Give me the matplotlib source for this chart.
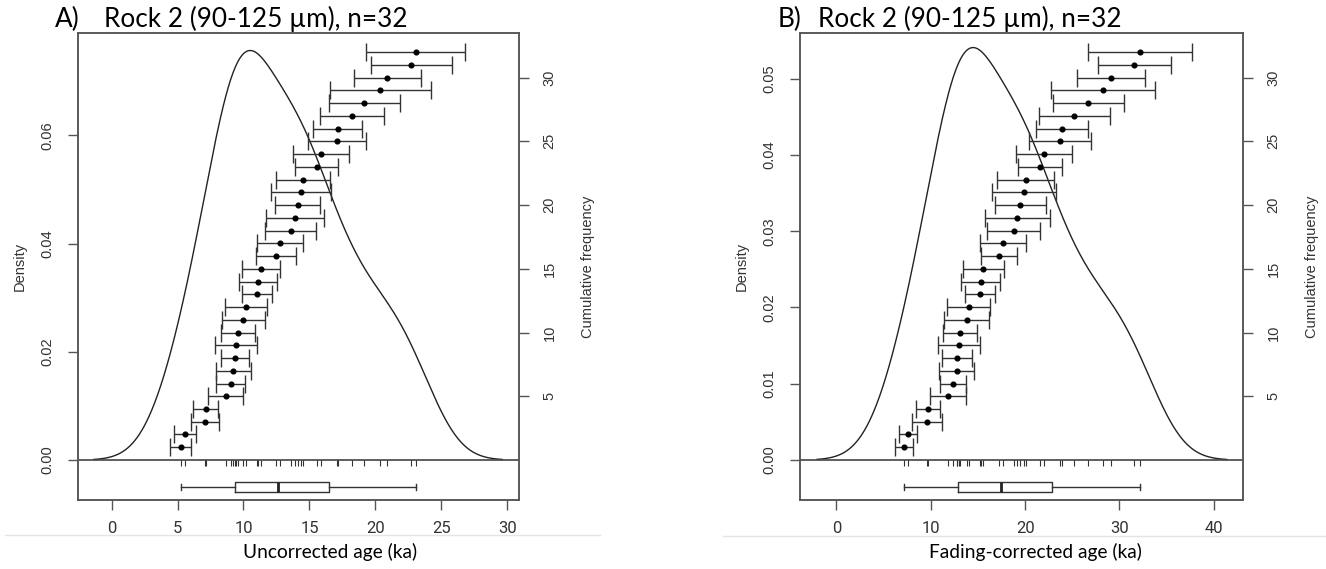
import matplotlib
matplotlib.use("Agg")
import matplotlib.pyplot as plt
import numpy as np
from matplotlib.lines import Line2D

# Rock 2 (90-125 um): sorted single-grain ages and errors (ka)
uncorr_age = [5.23, 5.54, 7.08, 7.15, 8.67, 9.02, 9.22, 9.35, 9.42, 9.58, 9.98, 10.18,
              11.04, 11.12, 11.32, 12.48, 12.78, 13.59, 13.90, 14.10, 14.37, 14.52,
              15.56, 15.90, 17.10, 17.15, 18.21, 19.17, 20.38, 20.91, 22.73, 23.06]
uncorr_err = [0.77, 0.83, 1.09, 0.94, 1.33, 1.07, 1.33, 1.09, 1.59, 1.29, 1.62, 1.61,
              1.15, 1.43, 1.44, 1.50, 1.77, 1.95, 2.18, 1.73, 2.27, 2.06,
              1.64, 2.12, 2.18, 1.85, 2.44, 2.69, 3.83, 2.54, 3.09, 3.77]

fc_age = [7.16, 7.58, 9.60, 9.70, 11.85, 12.32, 12.74, 12.81, 12.96, 13.13, 13.80, 14.01,
          15.20, 15.28, 15.56, 17.19, 17.61, 18.78, 19.16, 19.48, 19.87, 20.05,
          21.54, 21.99, 23.69, 23.87, 25.20, 26.69, 28.24, 29.12, 31.56, 32.16]
fc_err = [0.99, 0.99, 1.54, 1.23, 1.89, 1.37, 1.82, 1.57, 2.21, 1.82, 2.40, 2.26,
          1.57, 2.07, 2.16, 1.91, 2.44, 2.81, 3.44, 2.69, 3.41, 3.06,
          2.32, 2.97, 3.27, 2.77, 3.78, 3.74, 5.48, 3.62, 3.87, 5.48]

panel_tags = ["A)", "B)"]
panel_title = "Rock 2 (90-125 µm), n=32"
x_labels = ["Uncorrected age (ka)", "Fading-corrected age (ka)"]
x_ticks = [[0, 5, 10, 15, 20, 25, 30], [0, 10, 20, 30, 40]]
dens_ticks = [[0.00, 0.02, 0.04, 0.06], [0.00, 0.01, 0.02, 0.03, 0.04, 0.05]]
cum_ticks = [5, 10, 15, 20, 25, 30]

W, H = 1326, 569
LINE = "#333333"
SPINE = "#555555"
plt.rcParams["font.family"] = ["Liberation Sans", "DejaVu Sans"]


def fivenum(v):
    x = np.sort(v)
    n = len(x)
    n4 = np.floor((n + 3) / 2) / 2
    d = np.array([1, n4, (n + 1) / 2, n + 1 - n4, n]) - 1
    return 0.5 * (x[np.floor(d).astype(int)] + x[np.ceil(d).astype(int)])


def kde_nrd0(v):
    x = np.asarray(v)
    iqr = np.percentile(x, 75) - np.percentile(x, 25)
    bw = 0.9 * min(x.std(ddof=1), iqr / 1.34) * len(x) ** -0.2
    grid = np.linspace(x.min() - 3 * bw, x.max() + 3 * bw, 512)
    dens = np.exp(-0.5 * ((grid[:, None] - x[None, :]) / bw) ** 2).sum(1)
    dens /= len(x) * bw * np.sqrt(2 * np.pi)
    return grid, dens


def panel(rect, ages, errs, i, xlim, dlim, xlab_px):
    ax = fig.add_axes(rect)
    ax2 = ax.twinx()
    cum = np.arange(1, len(ages) + 1)

    gx, gy = kde_nrd0(ages)
    ax.plot(gx, gy, color="#222222", lw=1.0)
    ax.axhline(0, color="#444444", lw=1.2)

    ax2.errorbar(ages, cum, xerr=errs, fmt="o", ms=3.4, color="black",
                 ecolor=LINE, elinewidth=1.0, capsize=6.5, capthick=1.0)
    ax2.vlines(ages, -0.45, 0, color=LINE, lw=0.8)

    q = fivenum(ages)
    stats = [dict(whislo=q[0], q1=q[1], med=q[2], q3=q[3], whishi=q[4], fliers=[])]
    ax2.bxp(stats, positions=[-2.12], widths=0.86, vert=False, showfliers=False,
            capwidths=0.45,
            boxprops=dict(color=LINE, lw=1.0),
            whiskerprops=dict(color=LINE, lw=1.0),
            capprops=dict(color=LINE, lw=1.0),
            medianprops=dict(color="#222222", lw=2.0))

    ax.set_xlim(xlim)
    ax.set_ylim(dlim)
    ax2.set_ylim(-3.14, 33.5)

    ax.set_xticks(x_ticks[i])
    ax.set_xticklabels([str(t) for t in x_ticks[i]],
                       family=["Roboto", "Liberation Sans"],
                       fontsize=12, color="#333333")
    ax.set_yticks(dens_ticks[i])
    ax.set_yticklabels(["%.2f" % t for t in dens_ticks[i]], rotation=90,
                       va="center", fontsize=10.5, color="#333333")
    ax2.set_yticks(cum_ticks)
    ax2.set_yticklabels([str(t) for t in cum_ticks], rotation=90,
                        va="center", fontsize=10.5, color="#333333")
    ax.tick_params(axis="x", length=7, width=1, color=SPINE, pad=8)
    ax.tick_params(axis="y", length=7, width=1, color=SPINE, pad=10)
    ax2.tick_params(axis="y", length=7, width=1, color=SPINE, pad=10)
    for a in (ax, ax2):
        for s in a.spines.values():
            s.set_color(SPINE)
            s.set_linewidth(1.1)

    ax.set_ylabel("Density", fontsize=10.5, color="#333333")
    ax.yaxis.set_label_coords(-0.116, 0.5)
    ax2.set_ylabel("Cumulative frequency", fontsize=10.5, color="#333333")
    ax2.yaxis.set_label_coords(1.14, 0.5)

    # x label sits where it was pasted, not exactly under the plot centre
    fig.text(xlab_px / W, 1 - 552 / H, x_labels[i], family=["Lato", "DejaVu Sans"],
             fontsize=13.8, color="black", ha="center", va="center")
    return ax


fig = plt.figure(figsize=(W / 100, H / 100), dpi=100)

panel([78 / W, 1 - 500 / H, 441 / W, 467 / H], uncorr_age, uncorr_err, 0,
      (-2.55, 30.9), (-0.00739, 0.0789), 330)
panel([800 / W, 1 - 500 / H, 443 / W, 467 / H], fc_age, fc_err, 1,
      (-3.86, 43.09), (-0.00525, 0.0560), 1035)

for i, (xt, xr) in enumerate([(55, 104), (778, 818)]):
    fig.text(xt / W, 1 - 19 / H, panel_tags[i], family=["Lato", "DejaVu Sans"],
             fontsize=18.8, va="center", ha="left")
    fig.text(xr / W, 1 - 19 / H, panel_title, family=["Lato", "DejaVu Sans"],
             fontsize=18.8, va="center", ha="left")

# faint crop lines under the tick labels
fig.add_artist(Line2D([5 / W, 600 / W], [1 - 535 / H] * 2, color="#e4e4e4", lw=1))
fig.add_artist(Line2D([723 / W, 1.0], [1 - 536 / H] * 2, color="#e4e4e4", lw=1))

fig.savefig("out.png", dpi=100)
